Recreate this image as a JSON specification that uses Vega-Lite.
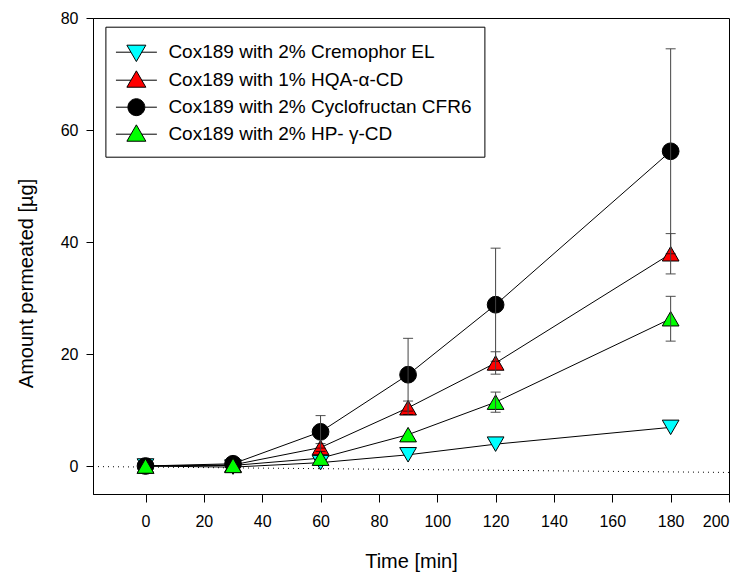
{
  "$schema": "https://vega.github.io/schema/vega-lite/v6.json",
  "width": 636,
  "height": 476,
  "autosize": {"type": "none"},
  "padding": {"left": 93, "top": 18, "right": 16, "bottom": 79},
  "background": "white",
  "config": {
    "font": "Liberation Sans",
    "view": {"stroke": "black", "strokeWidth": 1},
    "axis": {
      "grid": false,
      "domainColor": "black",
      "domainWidth": 1,
      "tickColor": "black",
      "tickWidth": 1,
      "labelColor": "black",
      "titleColor": "black",
      "labelFont": "Liberation Sans",
      "titleFont": "Liberation Sans",
      "labelFontSize": 16,
      "titleFontSize": 20,
      "titleFontWeight": "normal"
    }
  },
  "datasets": {
    "pts": [
      {"series": "Cox189 with 2% Cremophor EL", "time": 0, "value": 0, "sd": 0},
      {"series": "Cox189 with 2% Cremophor EL", "time": 30, "value": -0.2, "sd": 0},
      {"series": "Cox189 with 2% Cremophor EL", "time": 60, "value": 0.6, "sd": 0},
      {"series": "Cox189 with 2% Cremophor EL", "time": 90, "value": 2.0, "sd": 0},
      {"series": "Cox189 with 2% Cremophor EL", "time": 120, "value": 3.9, "sd": 0},
      {"series": "Cox189 with 2% Cremophor EL", "time": 180, "value": 6.9, "sd": 0},
      {"series": "Cox189 with 2% Cyclofructan CFR6", "time": 0, "value": 0, "sd": 0},
      {"series": "Cox189 with 2% Cyclofructan CFR6", "time": 30, "value": 0.4, "sd": 0},
      {"series": "Cox189 with 2% Cyclofructan CFR6", "time": 60, "value": 6.1, "sd": 2.9},
      {"series": "Cox189 with 2% Cyclofructan CFR6", "time": 90, "value": 16.3, "sd": 6.5},
      {"series": "Cox189 with 2% Cyclofructan CFR6", "time": 120, "value": 28.8, "sd": 10.1},
      {"series": "Cox189 with 2% Cyclofructan CFR6", "time": 180, "value": 56.2, "sd": 18.3},
      {"series": "Cox189 with 1% HQA-α-CD", "time": 0, "value": 0, "sd": 0},
      {"series": "Cox189 with 1% HQA-α-CD", "time": 30, "value": 0.2, "sd": 0},
      {"series": "Cox189 with 1% HQA-α-CD", "time": 60, "value": 3.3, "sd": 0.7},
      {"series": "Cox189 with 1% HQA-α-CD", "time": 90, "value": 10.4, "sd": 1.2},
      {"series": "Cox189 with 1% HQA-α-CD", "time": 120, "value": 18.4, "sd": 2.0},
      {"series": "Cox189 with 1% HQA-α-CD", "time": 180, "value": 37.9, "sd": 3.6},
      {"series": "Cox189 with 2% HP- γ-CD", "time": 0, "value": 0, "sd": 0},
      {"series": "Cox189 with 2% HP- γ-CD", "time": 30, "value": 0.1, "sd": 0},
      {"series": "Cox189 with 2% HP- γ-CD", "time": 60, "value": 1.4, "sd": 0},
      {"series": "Cox189 with 2% HP- γ-CD", "time": 90, "value": 5.6, "sd": 0},
      {"series": "Cox189 with 2% HP- γ-CD", "time": 120, "value": 11.4, "sd": 1.8},
      {"series": "Cox189 with 2% HP- γ-CD", "time": 180, "value": 26.3, "sd": 4.0}
    ],
    "fit": [
      {"time": -18, "value": -0.1},
      {"time": 200, "value": -1.15}
    ]
  },
  "data": {"name": "pts"},
  "encoding": {
    "x": {
      "field": "time",
      "type": "quantitative",
      "scale": {"domain": [-18, 200], "nice": false, "zero": false},
      "axis": {
        "values": [0, 20, 40, 60, 80, 100, 120, 140, 160, 180, 200],
        "tickSize": 8,
        "labelPadding": 11,
        "title": "Time [min]",
        "titlePadding": 22
      }
    },
    "y": {
      "field": "value",
      "type": "quantitative",
      "scale": {"domain": [-5, 80], "nice": false, "zero": false},
      "axis": {
        "values": [0, 20, 40, 60, 80],
        "tickSize": 7,
        "labelPadding": 8,
        "title": "Amount permeated [µg]",
        "titlePadding": 24,
        "titleY": 265
      }
    }
  },
  "layer": [
    {
      "data": {"name": "fit"},
      "mark": {"type": "line", "color": "black", "strokeWidth": 1, "strokeDash": [1, 4]},
      "encoding": {}
    },
    {
      "mark": {"type": "line", "color": "black", "strokeWidth": 1},
      "encoding": {"detail": {"field": "series"}}
    },
    {
      "mark": {"type": "point", "filled": true, "stroke": "black", "strokeWidth": 1, "opacity": 1},
      "encoding": {
        "shape": {
          "field": "series",
          "scale": {
            "domain": ["Cox189 with 2% Cremophor EL", "Cox189 with 1% HQA-α-CD", "Cox189 with 2% Cyclofructan CFR6", "Cox189 with 2% HP- γ-CD"],
            "range": ["triangle-down", "triangle-up", "circle", "triangle-up"]
          },
          "legend": null
        },
        "fill": {
          "field": "series",
          "scale": {
            "domain": ["Cox189 with 2% Cremophor EL", "Cox189 with 1% HQA-α-CD", "Cox189 with 2% Cyclofructan CFR6", "Cox189 with 2% HP- γ-CD"],
            "range": ["#00FFFF", "#FF0000", "#000000", "#00FF00"]
          },
          "legend": null
        },
        "size": {
          "field": "series",
          "scale": {
            "domain": ["Cox189 with 2% Cremophor EL", "Cox189 with 1% HQA-α-CD", "Cox189 with 2% Cyclofructan CFR6", "Cox189 with 2% HP- γ-CD"],
            "range": [280, 280, 220, 280]
          },
          "legend": null
        }
      }
    },
    {
      "transform": [{"filter": "datum.sd > 0"}],
      "mark": {
        "type": "errorbar",
        "ticks": {"size": 10, "color": "black", "strokeWidth": 1},
        "rule": {"color": "#444444", "strokeWidth": 1}
      },
      "encoding": {
        "yError": {"field": "sd"}
      }
    },
    {
      "transform": [{"filter": "false"}],
      "mark": {"type": "point", "filled": true, "strokeWidth": 1, "opacity": 1},
      "encoding": {
        "shape": {
          "field": "series",
          "scale": {
            "domain": ["Cox189 with 2% Cremophor EL", "Cox189 with 1% HQA-α-CD", "Cox189 with 2% Cyclofructan CFR6", "Cox189 with 2% HP- γ-CD"],
            "range": [
              "M-1.15,0H0M0.84,0H2M-0.31,-0.54L1.15,-0.54L0.42,0.72Z",
              "M-1.15,0H0M0.84,0H2M0.42,-0.72L1.15,0.54L-0.31,0.54Z",
              "M-1.15,0H-0.23M1.07,0H2M-0.23,0A0.65,0.65,0,1,0,1.07,0A0.65,0.65,0,1,0,-0.23,0Z",
              "M-1.15,0H0M0.84,0H2M0.42,-0.72L1.15,0.54L-0.31,0.54Z"
            ]
          },
          "legend": {
            "title": null, "orient": "none", "legendX": 12.4, "legendY": 8.7,
            "symbolSize": 676, "symbolStrokeWidth": 1, "symbolStrokeColor": "black",
            "labelFontSize": 19, "labelFont": "Liberation Sans", "labelColor": "black",
            "labelOffset": 24, "labelLimit": 0, "rowPadding": 3,
            "padding": 12, "strokeColor": "black", "fillColor": "white"
          }
        },
        "fill": {
          "field": "series",
          "scale": {
            "domain": ["Cox189 with 2% Cremophor EL", "Cox189 with 1% HQA-α-CD", "Cox189 with 2% Cyclofructan CFR6", "Cox189 with 2% HP- γ-CD"],
            "range": ["#00FFFF", "#FF0000", "#000000", "#00FF00"]
          },
          "legend": {
            "title": null, "orient": "none", "legendX": 12.4, "legendY": 8.7,
            "symbolSize": 676, "symbolStrokeWidth": 1, "symbolStrokeColor": "black",
            "labelFontSize": 19, "labelFont": "Liberation Sans", "labelColor": "black",
            "labelOffset": 24, "labelLimit": 0, "rowPadding": 3,
            "padding": 12, "strokeColor": "black", "fillColor": "white"
          }
        },
        "stroke": {
          "field": "series",
          "scale": {
            "domain": ["Cox189 with 2% Cremophor EL", "Cox189 with 1% HQA-α-CD", "Cox189 with 2% Cyclofructan CFR6", "Cox189 with 2% HP- γ-CD"],
            "range": ["#000000", "#000000", "#000000", "#000000"]
          },
          "legend": {
            "title": null, "orient": "none", "legendX": 12.4, "legendY": 8.7,
            "symbolSize": 676, "symbolStrokeWidth": 1, "symbolStrokeColor": "black",
            "labelFontSize": 19, "labelFont": "Liberation Sans", "labelColor": "black",
            "labelOffset": 24, "labelLimit": 0, "rowPadding": 3,
            "padding": 12, "strokeColor": "black", "fillColor": "white"
          }
        }
      }
    }
  ],
  "resolve": {"scale": {"shape": "independent", "fill": "independent", "size": "independent", "stroke": "independent"}}
}
